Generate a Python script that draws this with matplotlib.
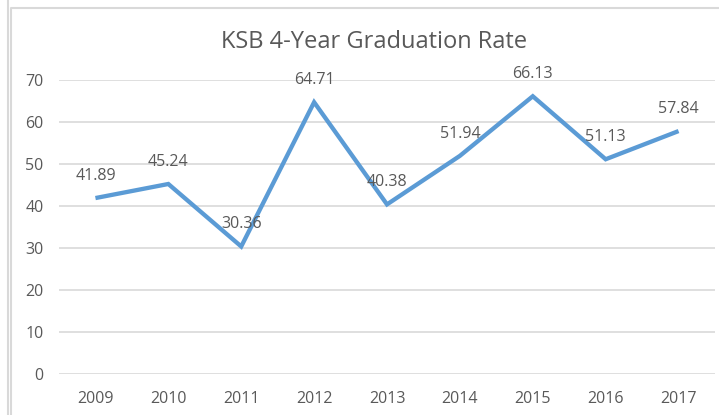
import matplotlib
matplotlib.use("Agg")
from matplotlib import pyplot as plt
from matplotlib.lines import Line2D

years = ["2009", "2010", "2011", "2012", "2013", "2014", "2015", "2016", "2017"]
rates = [41.89, 45.24, 30.36, 64.71, 40.38, 51.94, 66.13, 51.13, 57.84]
labels = ["41.89", "45.24", "30.36", "64.71", "40.38", "51.94", "66.13", "51.13", "57.84"]

plt.rcParams['font.family'] = ['Open Sans', 'DejaVu Sans']
text_color = '#595959'
grid_color = '#D9D9D9'

W, H = 719, 415
fig = plt.figure(figsize=(W / 100, H / 100), dpi=100)
ax = fig.add_axes([59 / W, 1 - 374 / H, (715 - 59) / W, (374 - 80) / H])

x = range(len(years))
ax.plot(x, rates, color='#5B9BD5', linewidth=3.1, solid_joinstyle='miter',
        solid_capstyle='butt', clip_on=False, zorder=3)

for i, v in enumerate(rates):
    ax.annotate(labels[i], (i, v), xytext=(0, 16), textcoords='offset points',
                ha='center', va='center', fontsize=11.5, color=text_color, zorder=4)

ax.set_xlim(-0.5, len(years) - 0.5)
ax.set_ylim(0, 70)
ax.set_yticks(range(0, 71, 10))
ax.set_xticks(list(x))
ax.set_xticklabels(years)
ax.yaxis.grid(True, color=grid_color, linewidth=1.2)
ax.set_axisbelow(True)
for s in ax.spines.values():
    s.set_visible(False)
ax.tick_params(length=0, labelsize=11.5, labelcolor=text_color)
ax.tick_params(axis='y', pad=11)
ax.tick_params(axis='x', pad=12)

fig.text(374 / W, 1 - 42 / H, 'KSB 4-Year Graduation Rate', ha='center', va='center',
         fontsize=17, color=text_color)

# chart frame
fig.add_artist(Line2D([7.5 / W, 7.5 / W], [0, 1], transform=fig.transFigure,
                      color=grid_color, linewidth=1.5))
fig.add_artist(Line2D([11 / W, 11 / W, 1], [0, 1 - 8 / H, 1 - 8 / H], transform=fig.transFigure,
                      color=grid_color, linewidth=1.5))

plt.savefig('out.png', dpi=100)
